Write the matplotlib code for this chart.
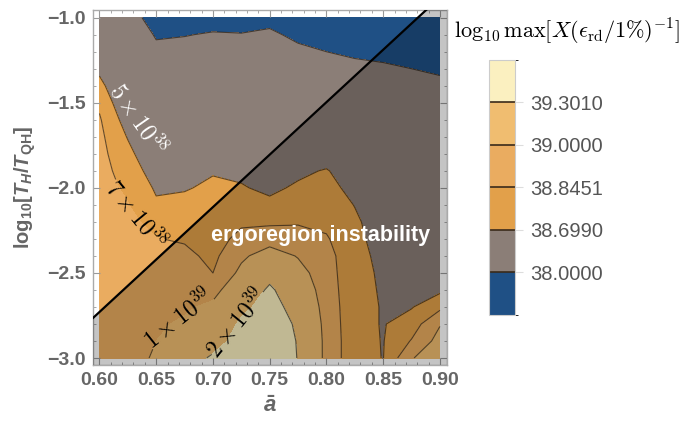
import numpy as np
import matplotlib
matplotlib.use("Agg")
import matplotlib.pyplot as plt
from matplotlib.colors import ListedColormap, BoundaryNorm
from matplotlib.cm import ScalarMappable
from matplotlib.ticker import MultipleLocator

# grid (columns = a_bar, rows listed from log_t = -1.0 down to -3.0)
a_bar = [0.600, 0.625, 0.650, 0.675, 0.700, 0.725, 0.750, 0.775, 0.800, 0.825, 0.850, 0.875, 0.900]
log_t = [-1.0, -1.1, -1.2, -1.3, -1.4, -1.5, -1.6, -1.7, -1.8, -1.9, -2.0,
         -2.1, -2.2, -2.3, -2.4, -2.5, -2.6, -2.7, -2.8, -2.9, -3.0]
log_x_by_column = [
    [38.35, 38.45, 38.55, 38.66, 38.75, 38.82, 38.86, 38.88, 38.89, 38.90, 38.90, 38.90, 38.91, 38.91, 38.92, 38.92, 38.93, 38.93, 38.94, 38.94, 38.95],
    [38.15, 38.25, 38.35, 38.43, 38.50, 38.56, 38.63, 38.69, 38.74, 38.78, 38.82, 38.85, 38.88, 38.90, 38.91, 38.92, 38.93, 38.94, 38.95, 38.96, 38.97],
    [37.85, 37.97, 38.07, 38.17, 38.26, 38.35, 38.43, 38.50, 38.57, 38.63, 38.68, 38.72, 38.80, 38.85, 38.89, 38.92, 38.94, 38.96, 38.98, 39.00, 39.01],
    [37.88, 37.99, 38.08, 38.17, 38.26, 38.35, 38.43, 38.50, 38.57, 38.63, 38.69, 38.73, 38.77, 38.83, 38.88, 38.92, 38.95, 38.98, 39.02, 39.10, 39.20],
    [37.90, 38.02, 38.13, 38.23, 38.33, 38.42, 38.50, 38.57, 38.64, 38.69, 38.72, 38.74, 38.76, 38.78, 38.81, 38.845, 38.95, 39.03, 39.12, 39.22, 39.33],
    [37.90, 38.01, 38.12, 38.23, 38.33, 38.42, 38.50, 38.57, 38.63, 38.67, 38.71, 38.76, 38.82, 38.89, 38.97, 39.04, 39.12, 39.24, 39.34, 39.38, 39.40],
    [37.93, 38.04, 38.15, 38.26, 38.36, 38.45, 38.52, 38.57, 38.61, 38.64, 38.67, 38.73, 38.82, 38.93, 39.08, 39.22, 39.34, 39.40, 39.42, 39.43, 39.43],
    [37.85, 37.95, 38.05, 38.16, 38.27, 38.37, 38.46, 38.54, 38.61, 38.67, 38.72, 38.77, 38.83, 38.91, 38.99, 39.06, 39.13, 39.20, 39.27, 39.29, 39.295],
    [37.78, 37.89, 38.00, 38.11, 38.22, 38.33, 38.43, 38.53, 38.62, 38.71, 38.74, 38.77, 38.81, 38.86, 38.90, 38.91, 38.92, 38.93, 38.94, 38.95, 38.95],
    [37.72, 37.84, 37.96, 38.06, 38.17, 38.27, 38.37, 38.46, 38.54, 38.61, 38.66, 38.695, 38.72, 38.73, 38.735, 38.74, 38.745, 38.75, 38.75, 38.75, 38.75],
    [37.70, 37.80, 37.93, 38.04, 38.14, 38.24, 38.33, 38.41, 38.48, 38.53, 38.57, 38.60, 38.63, 38.65, 38.67, 38.68, 38.685, 38.69, 38.69, 38.693, 38.695],
    [37.68, 37.79, 37.90, 38.00, 38.10, 38.20, 38.29, 38.37, 38.44, 38.49, 38.53, 38.56, 38.58, 38.60, 38.61, 38.62, 38.64, 38.69, 38.77, 38.855, 38.99],
    [37.62, 37.72, 37.83, 37.96, 38.06, 38.16, 38.25, 38.33, 38.40, 38.46, 38.51, 38.55, 38.58, 38.60, 38.62, 38.64, 38.67, 38.81, 38.99, 39.06, 39.10],
]

levels = [38.0, 38.699, 38.8451, 39.0, 39.301]
fill_bounds = [37.0] + levels + [40.0]
band_colors = ["#1f5085", "#8b7e77", "#e2a04a", "#eaac60", "#f0bd70", "#fbf0c0"]
contour_names = [r"$10^{38}$", r"$5\times10^{38}$", r"$7\times10^{38}$",
                 r"$1\times10^{39}$", r"$2\times10^{39}$"]

# ergoregion instability boundary
line_x = [0.58, 0.92]
line_y = [-2.853, -0.757]

plt.rcParams["font.family"] = ["Liberation Sans", "DejaVu Sans"]
plt.rcParams["mathtext.fontset"] = "custom"
plt.rcParams["mathtext.rm"] = "Liberation Sans:bold"
plt.rcParams["mathtext.it"] = "Liberation Sans:bold:italic"
plt.rcParams["mathtext.bf"] = "Liberation Sans:bold"

grey_text = "#666666"

fig = plt.figure(figsize=(6.99, 4.26), dpi=100)
ax = fig.add_axes([0.133, 0.1432, 0.5064, 0.8333])

X, Y = np.meshgrid(a_bar, log_t)
Z = np.array(log_x_by_column).T

ax.contourf(X, Y, Z, levels=fill_bounds, colors=band_colors, zorder=1)
cs = ax.contour(X, Y, Z, levels=levels, colors=[(0.12, 0.09, 0.05, 0.65)],
                linewidths=0.8, zorder=2)

with plt.rc_context({"mathtext.fontset": "cm"}):
    texts = cs.clabel(
        manual=[(0.627, -2.18), (0.669, -2.76), (0.72, -2.79)],
        fmt=dict(zip(cs.levels, contour_names)),
        inline=True, inline_spacing=2, fontsize=17, colors="black",
    )
    ax.text(0.634, -1.60, contour_names[1], color="white", fontsize=17,
            rotation=-55, ha="center", va="center", zorder=5)

ax.fill_between(line_x, line_y, -4.0, color="black", alpha=0.23, lw=0, zorder=3)
ax.plot(line_x, line_y, color="black", lw=1.6, zorder=4)

ax.text(0.795, -2.278, "ergoregion instability", color="white", fontsize=15.5,
        fontweight="bold", ha="center", va="center", zorder=6)

ax.set_xlim(0.5943, 0.9062)
ax.set_ylim(-3.041, -0.955)

xt = [0.60, 0.65, 0.70, 0.75, 0.80, 0.85, 0.90]
yt = [-3.0, -2.5, -2.0, -1.5, -1.0]
ax.set_xticks(xt, labels=[f"{v:.2f}" for v in xt])
ax.set_yticks(yt, labels=[f"{v:.1f}".replace("-", "\u2212") for v in yt])
ax.xaxis.set_minor_locator(MultipleLocator(0.01))
ax.yaxis.set_minor_locator(MultipleLocator(0.1))
ax.tick_params(which="both", direction="in", top=True, right=True, color="#999999",
               labelcolor=grey_text, labelsize=14)
ax.tick_params(which="major", length=5, width=0.8, pad=5)
ax.tick_params(which="minor", length=2.5, width=0.6)
for lab in ax.get_xticklabels() + ax.get_yticklabels():
    lab.set_fontweight("bold")
for sp in ax.spines.values():
    sp.set_color("#aaaaaa")
    sp.set_linewidth(1.0)

ax.set_xlabel(r"$\bar{a}$", color=grey_text, fontsize=16, labelpad=5)
ax.set_ylabel(r"$\mathrm{log}_{10}[T_H/T_{\mathrm{QH}}]$", color=grey_text,
              fontsize=14.5, labelpad=7)

# discrete legend bar
cax = fig.add_axes([0.6996, 0.2606, 0.0372, 0.5986])
cmap = ListedColormap(band_colors)
norm = BoundaryNorm(fill_bounds, cmap.N)
cb = fig.colorbar(ScalarMappable(norm=norm, cmap=cmap), cax=cax,
                  spacing="uniform", ticks=levels)
cb.set_ticklabels([f"{v:.4f}" for v in levels])
cb.add_lines(levels, colors=["#3a2a1a"] * len(levels), linewidths=[1.2] * len(levels))
cb.outline.set_edgecolor("#cccccc")
cb.outline.set_linewidth(0.8)
cax.tick_params(length=6, width=0.8, color="#dddddd", labelcolor="#555555",
                labelsize=14.5, pad=5)

with plt.rc_context({"mathtext.fontset": "cm"}):
    fig.text(0.8115, 0.925, r"$\log_{10}\max[X(\epsilon_{\rm rd}/1\%)^{-1}]$",
             ha="center", va="center", fontsize=16)

fig.savefig("out.png", dpi=100)
